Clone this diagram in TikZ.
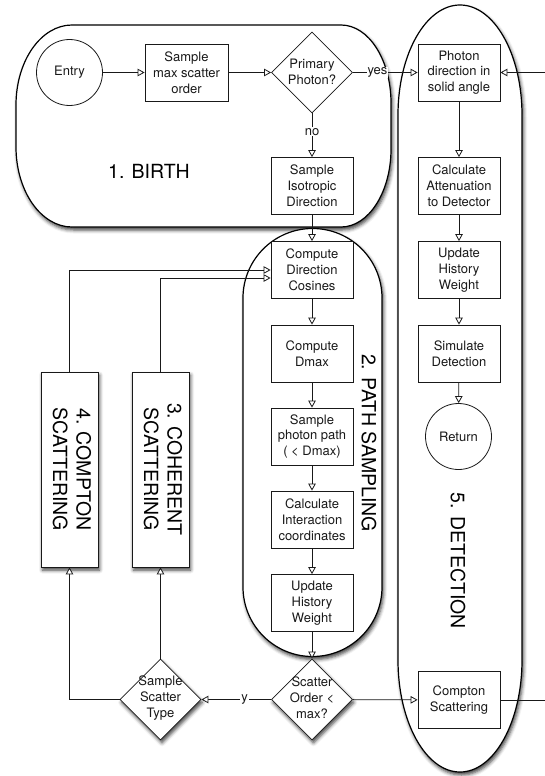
\documentclass[tikz,border=0pt]{standalone}
\usepackage{fontspec}
\setmainfont{TeX Gyre Heros}
\usetikzlibrary{arrows.meta,shapes.geometric,shadows.blur}

\begin{document}
\begin{tikzpicture}[x=1pt,y=-1pt,
  font=\fontsize{13}{15.8}\selectfont,
  softshadow/.style={blur shadow={shadow xshift=1.5pt, shadow yshift=-3pt,
      shadow blur radius=3.5pt, shadow opacity=75}},
  region/.style={draw=black, line width=1.2pt, fill=white, softshadow},
  proc/.style={draw=black!90, line width=0.8pt, fill=white, minimum width=82pt,
      minimum height=57pt, align=center, inner sep=1pt, text=black!90},
  terminal/.style={draw=black!90, line width=0.8pt, fill=white, circle,
      minimum size=66pt, inner sep=0pt, text=black!90},
  decision/.style={draw=black!90, line width=0.8pt, fill=white, diamond,
      shape aspect=1, minimum width=81pt, minimum height=81pt, inner sep=0pt},
  dtext/.style={align=center, inner sep=0pt, text=black!90},
  subproc/.style={draw=black!90, line width=0.8pt, fill=white, softshadow,
      minimum width=57pt, minimum height=195pt, inner sep=0pt, text=black},
  stagelabel/.style={font=\fontsize{19.5}{23.4}\selectfont, text=black, inner sep=0pt},
  edgelbl/.style={fill=white, inner sep=1pt, text=black!90},
  flow/.style={draw=black!90, line width=0.8pt,
      -{Triangle[length=7pt, width=7.5pt, fill=white]}},
  plain/.style={draw=black!90, line width=0.8pt}
]
\useasboundingbox (0,0) rectangle (545,776);

% ---- stage regions ----
% 1. Birth
\path[region] (72,25) -- (341,25)
  arc[start angle=-90, end angle=0, x radius=50, y radius=78] -- (391,149)
  arc[start angle=0, end angle=90, x radius=50, y radius=78] -- (72,227)
  arc[start angle=90, end angle=180, x radius=56, y radius=80] -- (16,105)
  arc[start angle=180, end angle=270, x radius=56, y radius=80] -- cycle;
% 5. Detection
\path[region] (398,115)
  arc[start angle=180, end angle=360, x radius=62, y radius=110] -- (522,660)
  arc[start angle=0, end angle=180, x radius=62, y radius=112] -- cycle;
% 2. Path sampling
\path[region] (243,298)
  arc[start angle=180, end angle=360, radius=69.5] -- (382,587)
  arc[start angle=0, end angle=180, radius=69.5] -- cycle;

\node[stagelabel] (birthlbl) at (149,171) {1. BIRTH};
\node[stagelabel, rotate=-90] (pathlbl) at (369,443) {2. PATH SAMPLING};
\node[stagelabel, rotate=-90] (detlbl) at (458,561) {5. DETECTION};

% ---- birth ----
\node[terminal] (entry) at (69.5,72.5) {Entry};
\node[proc, minimum width=83pt] (maxsc) at (186.5,72.5) {Sample\\max scatter\\order};
\node[decision] (primary) at (312,72.5) {};
\node[dtext] (primaryT) at (312,72) {Primary\\Photon?};
\node[proc] (iso) at (312,186) {Sample\\Isotropic\\Direction};

% ---- path sampling ----
\node[proc] (cosines) at (312,270) {Compute\\Direction\\Cosines};
\node[proc] (dmax) at (312,353.5) {Compute\\Dmax};
\node[proc] (ppath) at (312,436.5) {Sample\\photon path\\( < Dmax)};
\node[proc] (interact) at (312,519.5) {Calculate\\Interaction\\coordinates};
\node[proc] (updA) at (312,603) {Update\\History\\Weight};
\node[decision, softshadow] (order) at (312,699.5) {};
\node[dtext] (orderT) at (312,698) {Scatter\\Order <\\max?};

% ---- scattering ----
\node[decision, softshadow] (stype) at (160.5,699.5) {};
\node[dtext] (stypeT) at (160.5,698) {Sample\\Scatter\\Type};
\node[subproc] (comptonR) at (69.5,469.5)
  {\rotatebox{-90}{\fontsize{19.5}{23.4}\selectfont\begin{tabular}{@{}c@{}}4. COMPTON\\SCATTERING\end{tabular}}};
\node[subproc] (coherR) at (160.5,469.5)
  {\rotatebox{-90}{\fontsize{19.5}{23.4}\selectfont\begin{tabular}{@{}c@{}}3. COHERENT\\SCATTERING\end{tabular}}};

% ---- detection ----
\node[proc] (photon) at (459,72.5) {Photon\\direction in\\solid angle};
\node[proc] (atten) at (459,186) {Calculate\\Attenuation\\to Detector};
\node[proc] (updB) at (459,270) {Update\\History\\Weight};
\node[proc] (simdet) at (459,353.5) {Simulate\\Detection};
\node[terminal] (ret) at (458.5,436.5) {Return};
\node[proc] (compton) at (459,700) {Compton\\Scattering};

\coordinate (rin) at (545,72.5);
\coordinate (rout) at (545,700);

% ---- connectors ----
\draw[flow] (entry) -- (maxsc);
\draw[flow] (maxsc) -- (primary);
\draw[flow] (primary) -- node[edgelbl, pos=0.38] (yeslbl) {yes} (photon);
\draw[flow] (primary) -- node[edgelbl, pos=0.42] (nolbl) {no} (iso);
\draw[flow] (iso) -- (cosines);
\draw[flow] (cosines) -- (dmax);
\draw[flow] (dmax) -- (ppath);
\draw[flow] (ppath) -- (interact);
\draw[flow] (interact) -- (updA);
\draw[flow] (updA) -- (order);
\draw[flow] (order) -- node[edgelbl, pos=0.38] (ylbl) {y} (stype);
\draw[flow] (order) -- (compton);
\draw[plain] (compton) -- (rout);
\draw[flow] (rin) -- (photon);
\draw[flow] (photon) -- (atten);
\draw[flow] (atten) -- (updB);
\draw[flow] (updB) -- (simdet);
\draw[flow] (simdet) -- (ret);
\draw[flow] (stype.west) -| (comptonR.south);
\draw[flow] (stype.north) -- (coherR.south);
\draw[flow] (comptonR.north) |- (cosines.west);
\draw[flow] (coherR.north) |- ([yshift=-8pt]cosines.west);
\end{tikzpicture}
\end{document}
